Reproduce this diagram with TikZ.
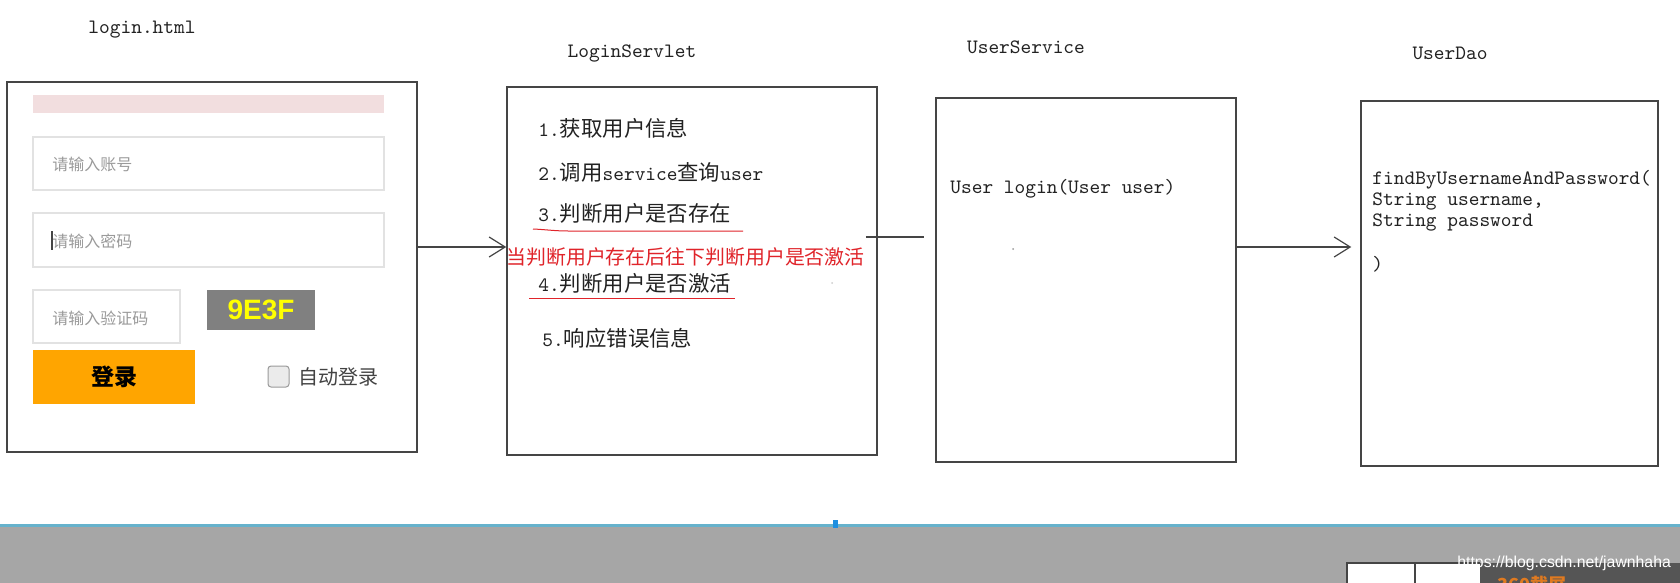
\documentclass[tikz,border=0pt]{standalone}
\usepackage{fontspec}
\setmainfont{Liberation Sans}
\newfontfamily\cjk{Noto Sans CJK SC}
\usetikzlibrary{arrows.meta}
\definecolor{boxline}{HTML}{454545}
\definecolor{txt}{HTML}{222222}
\definecolor{ph}{HTML}{9A9A9A}
\definecolor{inbord}{HTML}{E2E2E2}
\definecolor{pinkbar}{HTML}{F2DEDF}
\definecolor{btn}{HTML}{FFA500}
\definecolor{cap}{HTML}{808080}
\definecolor{capt}{HTML}{FFFF00}
\definecolor{redt}{HTML}{E0242A}
\definecolor{bottomgray}{HTML}{A6A6A6}
\definecolor{blueline}{HTML}{66B2CC}
\definecolor{bluemark}{HTML}{1E8FE0}
\definecolor{darkbar}{HTML}{555555}
\definecolor{orangetxt}{HTML}{E07A20}
\newcommand\zh[1]{{\cjk\fontsize{10.7}{12}\selectfont #1}}
\tikzset{
  box/.style={draw=boxline, line width=0.75pt, inner sep=0pt, fill=white},
  mono/.style={inner sep=0pt, text=txt, font=\ttfamily\fontsize{10.2}{12}\selectfont},
  listtext/.style={mono, anchor=west},
  placeholder/.style={anchor=west, inner sep=0pt, text=ph, font=\cjk\fontsize{8}{9}\selectfont},
  inputbox/.style={draw=inbord, line width=0.6pt, fill=white},
  arr/.style={draw=boxline, line width=0.6pt, -{Straight Barb[length=8pt,width=10pt,line width=0.6pt]}},
  plain/.style={draw=boxline, line width=0.6pt},
  uline/.style={draw=redt, line width=0.5pt}
}
\begin{document}
\begin{tikzpicture}[x=0.5pt,y=-0.5pt]
\useasboundingbox (0,0) rectangle (1680,583);
\fill[white] (0,0) rectangle (1680,583);

% bottom strip
\fill[bottomgray] (0,526) rectangle (1680,583);
\draw[blueline, line width=1.5pt] (0,525.5) -- (1680,525.5);
\fill[bluemark] (833,520) rectangle (838,528);
\fill[white] (1347,563) rectangle (1480,583);
\draw[boxline, line width=0.6pt] (1347,583) -- (1347,563) -- (1480,563);
\draw[boxline, line width=0.6pt] (1415,563) -- (1415,583);
\fill[darkbar] (1480,563) rectangle (1680,583);
\begin{scope}
\clip (1480,563) rectangle (1680,583);
\node[anchor=west, inner sep=0pt, text=orangetxt, font=\cjk\bfseries\fontsize{9}{10}\selectfont] (shot) at (1497,585) {360截屏};
\end{scope}
\node[anchor=west, inner sep=0pt, text=white, font=\fontsize{7.9}{9}\selectfont] (wm) at (1457,563) {https://blog.csdn.net/jawnhaha};

% titles
\node[mono] (t1) at (142,30) {login.html};
\node[mono] (t2) at (632,53) {LoginServlet};
\node[mono] (t3) at (1026,47) {UserService};
\node[mono] (t4) at (1450,53) {UserDao};

% boxes
\node[box, minimum width=205pt, minimum height=185pt] (login) at (212,267) {};
\node[box, minimum width=185pt, minimum height=184pt] (servlet) at (692,271) {};
\node[box, minimum width=150pt, minimum height=182pt] (service) at (1086,280) {};
\node[box, minimum width=148.5pt, minimum height=182.5pt] (dao) at (1509.5,283.5) {};

% login form
\fill[pinkbar] (33,95) rectangle (384,113);
\filldraw[inputbox] (33,137) rectangle (384,190);
\node[placeholder] (ph1) at (52,164) {请输入账号};
\filldraw[inputbox] (33,213) rectangle (384,267);
\node[placeholder] (ph2) at (52,241) {请输入密码};
\draw[boxline, line width=0.6pt] (52,231) -- (52,250);
\filldraw[inputbox] (33,290) rectangle (180,343);
\node[placeholder] (ph3) at (52,318) {请输入验证码};
\node[fill=cap, minimum width=54pt, minimum height=20pt, inner sep=0pt, text=capt, font=\bfseries\fontsize{14}{16}\selectfont] (captcha) at (261,310) {9E3F};
\node[fill=btn, minimum width=81pt, minimum height=27pt, inner sep=0pt, text=black, font=\cjk\bfseries\fontsize{11.5}{13}\selectfont] (loginbtn) at (114,377) {登录};
\filldraw[fill=white!92!black, draw=ph, line width=0.5pt, rounded corners=1.5pt] (268,366) rectangle (289,387);
\node[anchor=west, inner sep=0pt, text=txt!85, font=\cjk\fontsize{10}{12}\selectfont] (auto) at (298,377) {自动登录};

% servlet steps
\node[listtext] (s1) at (538,128) {1.\zh{获取用户信息}};
\node[listtext] (s2) at (538,172) {2.\zh{调用}service\zh{查询}user};
\node[listtext] (s3) at (538,213) {3.\zh{判断用户是否存在}};
\node[listtext] (s4) at (538,283) {4.\zh{判断用户是否激活}};
\node[listtext] (s5) at (542,338) {5.\zh{响应错误信息}};
\draw[uline] (533,229) .. controls (545,229.5) and (555,231) .. (568,231) -- (743,231);
\draw[uline] (529,298) -- (735,298);
\node[anchor=west, inner sep=0pt, text=redt, font=\cjk\fontsize{9.95}{11}\selectfont] (note) at (506,257) {当判断用户存在后往下判断用户是否激活};

% service
\node[listtext] (u1) at (950,189) {User login(User user)};

% dao
\node[listtext] (d1) at (1372,180) {findByUsernameAndPassword(};
\node[listtext] (d2) at (1372,201) {String username,};
\node[listtext] (d3) at (1372,222) {String password};
\node[listtext] (d4) at (1372,264) {)};

% small specks
\fill[ph] (1013,249) circle (1);
\fill[ph!50] (832,283) circle (1);

% connectors
\coordinate (y1) at (0,247);
\coordinate (a2end) at (924,237);
\coordinate (y3) at (0,247);
\draw[arr] (login.east |- y1) -- (servlet.west |- y1);
\draw[plain] (servlet.east |- a2end) ++(-12,0) -- (a2end);
\draw[arr] (service.east |- y3) -- ([xshift=-4.5pt]dao.west |- y3);
\end{tikzpicture}
\end{document}
